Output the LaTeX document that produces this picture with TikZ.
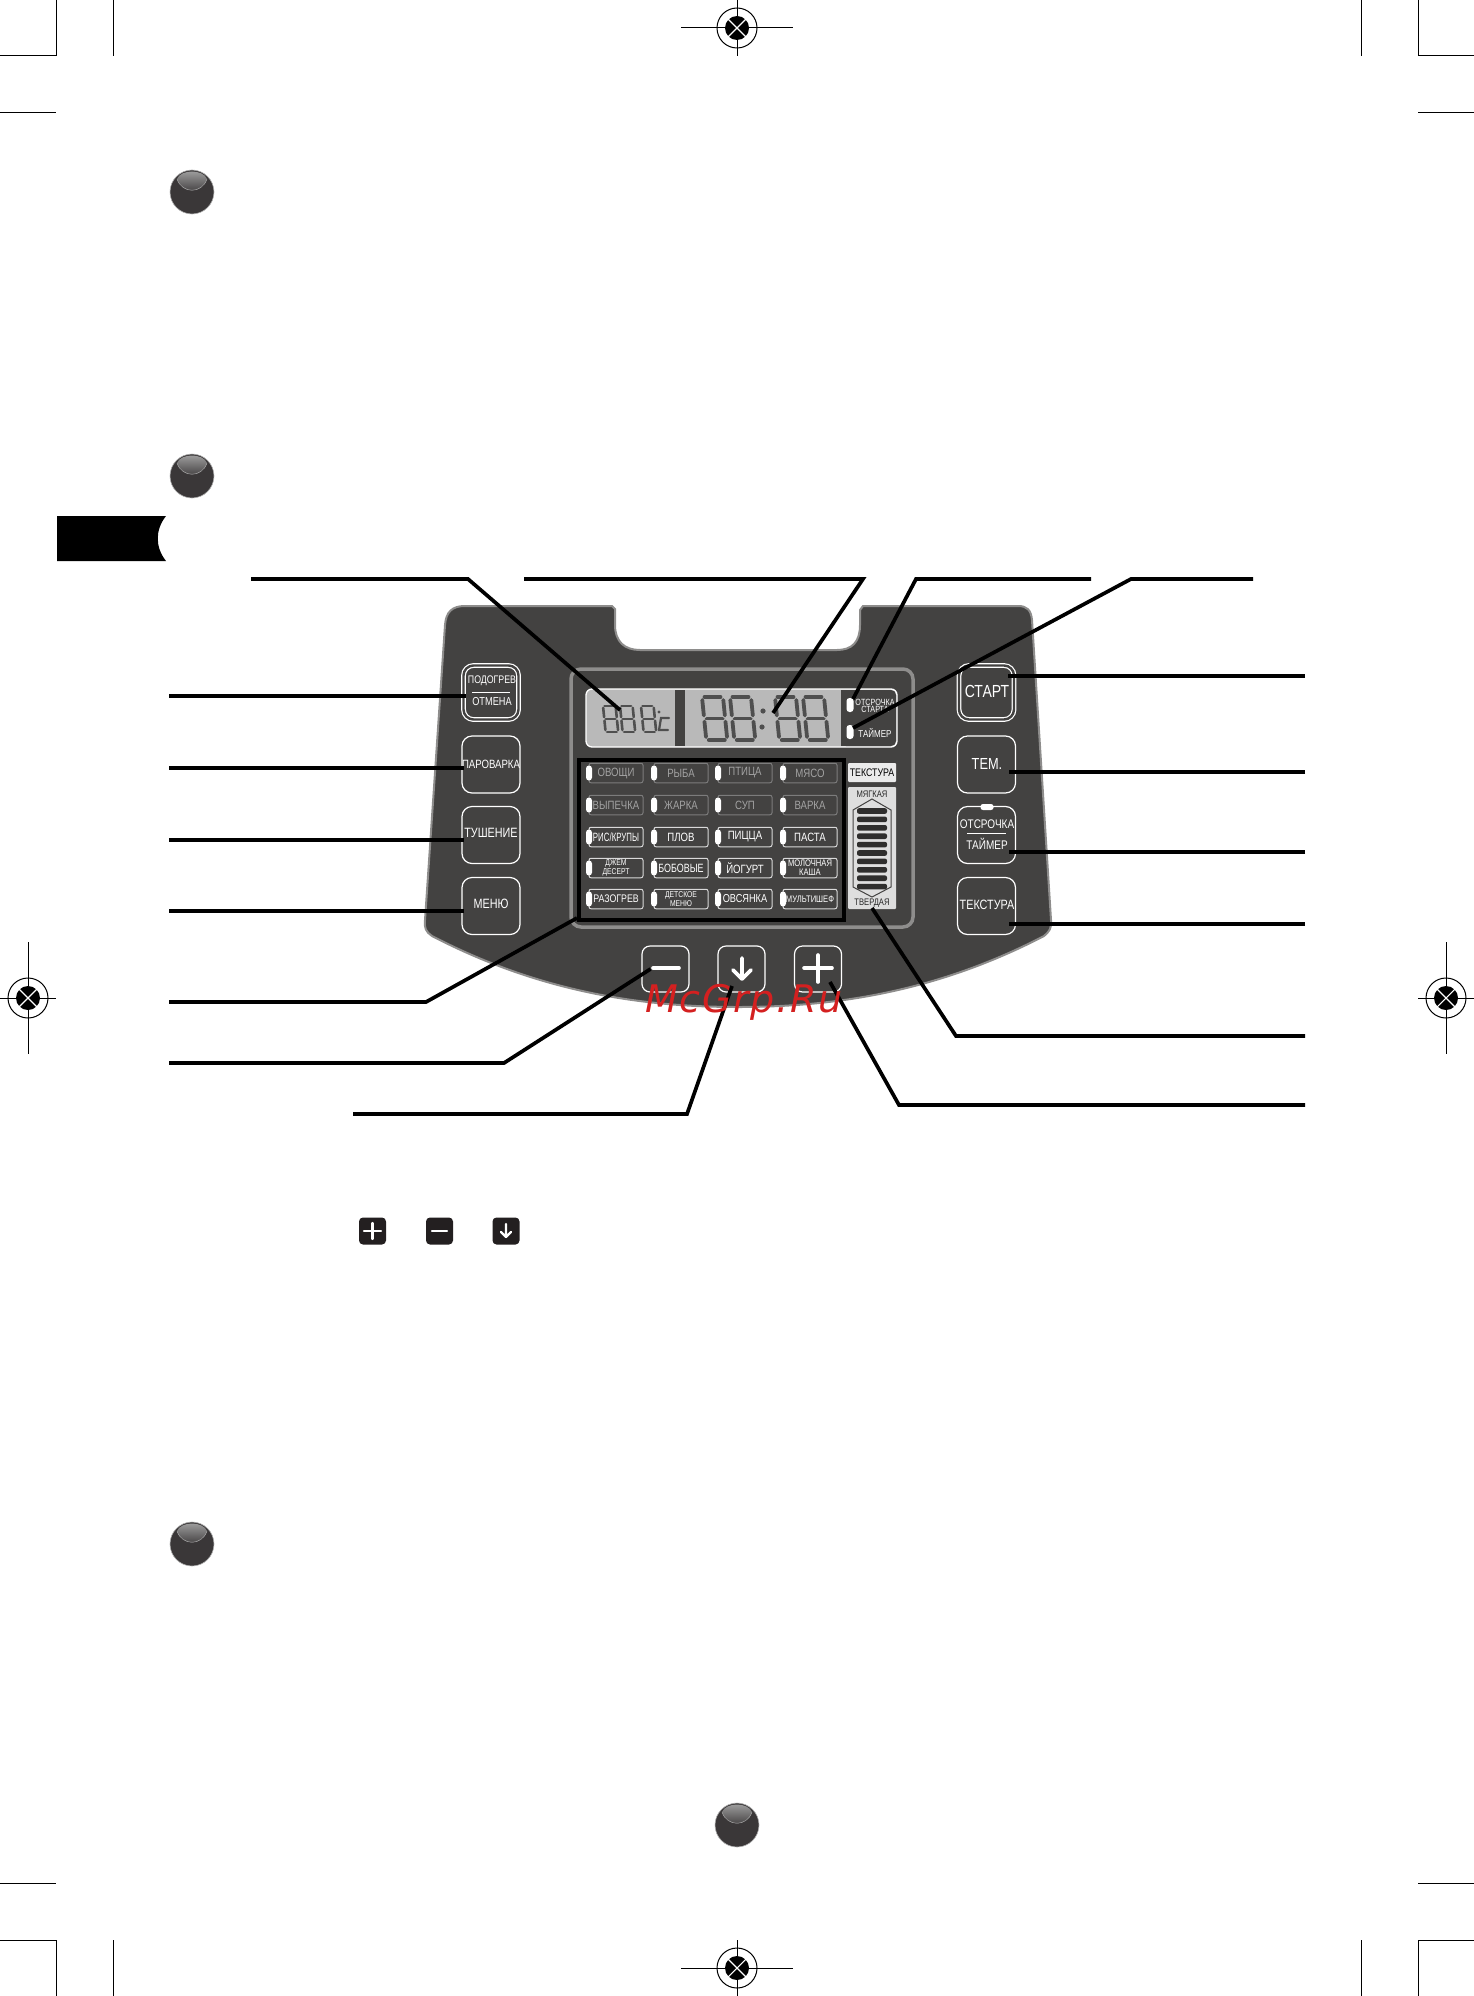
\documentclass[tikz,border=0pt]{standalone}
\usepackage{fontspec}
\usepackage{xcolor}
\setmainfont{Liberation Sans}
\newfontfamily\panelfont[FakeStretch=0.8]{Liberation Sans}
\newfontfamily\markfont[LetterSpace=4.5]{DejaVu Sans}
\definecolor{panelgray}{HTML}{434241}
\definecolor{bevelgray}{HTML}{8E8D8C}
\definecolor{lcdgray}{HTML}{B9B9B9}
\definecolor{seggray}{HTML}{4F4F4F}
\definecolor{dimgray}{HTML}{7C7C7C}
\definecolor{ballgray}{HTML}{3A3738}
\definecolor{iconblack}{HTML}{231F20}
\definecolor{markred}{HTML}{D42020}
\newcommand{\squeeze}[2]{\scalebox{#1}[1]{#2}}
\newcommand{\cellpair}[3]{\fontsize{#1}{8}\selectfont #2\\\fontsize{#1}{8}\selectfont #3}
\newcommand{\cellone}[2]{\fontsize{#1}{#1}\selectfont #2}
\newcommand{\segdigit}[4]{
\begin{scope}[shift={(#1,#2)},xslant=-0.1,scale=#3]
\draw[#4] (2.5,0) -- (18.5,0);
\draw[#4] (2.5,21.5) -- (18.5,21.5);
\draw[#4] (2.5,43) -- (18.5,43);
\draw[#4] (0,3) -- (0,18.5);
\draw[#4] (21,3) -- (21,18.5);
\draw[#4] (0,24.5) -- (0,40);
\draw[#4] (21,24.5) -- (21,40);
\end{scope}
}
\tikzset{
callout/.style={line width=3.7pt,black},
segbig/.style={line width=3.8pt,seggray,line cap=round},
segsmall/.style={line width=2.6pt,seggray,line cap=round},
crop/.style={line width=1pt,black},
btn/.style={draw=white,line width=1.2pt,rounded corners=10pt,minimum width=58pt,minimum height=57pt,inner sep=0pt,text=white,font=\panelfont\fontsize{12}{12}\selectfont},
btnsmall/.style={draw=white,line width=1.2pt,rounded corners=8pt,minimum width=47pt,minimum height=46pt,inner sep=0pt},
btntext/.style={inner sep=0pt,text=white,font=\panelfont\fontsize{13.5}{13.5}\selectfont},
cellon/.style={draw=white!85!black,line width=1pt,rounded corners=2pt,minimum width=54pt,minimum height=19.5pt,inner sep=0pt,text=white,align=center,font=\panelfont\fontsize{12}{9}\selectfont},
celldim/.style={cellon,draw=dimgray,text=dimgray!70!white},
lcdtext/.style={inner sep=0pt,text=white,align=center,font=\panelfont\fontsize{9}{7.5}\selectfont},
softtext/.style={inner sep=0pt,text=black!85,font=\panelfont\fontsize{9.5}{9.5}\selectfont},
}
\begin{document}
\begin{tikzpicture}[x=1pt,y=-1pt]
\useasboundingbox (0,0) rectangle (1474,1996);

% crop marks
\foreach \sx/\ox in {1/0,-1/1474} {
\foreach \sy/\oy in {1/0,-1/1996} {
\draw[crop] (\ox,\oy+\sy*56) -- (\ox+\sx*56,\oy+\sy*56) -- (\ox+\sx*56,\oy);
\draw[crop] (\ox+\sx*113,\oy) -- (\ox+\sx*113,\oy+\sy*56);
\draw[crop] (\ox,\oy+\sy*113) -- (\ox+\sx*56,\oy+\sy*113);
}}

% register marks
\foreach \px/\py/\hx/\hy in {737/28/56/28,737/1968/56/28,28/998/28/56,1446/998/28/56} {
\begin{scope}[shift={(\px,\py)}]
\draw[crop] (-\hx,0) -- (\hx,0);
\draw[crop] (0,-\hy) -- (0,\hy);
\draw[crop] (0,0) circle (20);
\fill[black] (0,0) circle (12);
\draw[white,line width=1.1pt] (-9,-9) -- (9,9);
\draw[white,line width=1.1pt] (-9,9) -- (9,-9);
\end{scope}
}

% round bullets
\foreach \px/\py in {192/192,192/476,192/1544,737/1825} {
\begin{scope}[shift={(\px,\py)}]
\fill[ballgray] (0,0) circle (22);
\draw[gray!60,line width=0.6pt] (0,0) circle (22);
\shade[top color=white!65!black,middle color=ballgray,bottom color=ballgray] (-15,-13) .. controls (-11,-23) and (11,-23) .. (15,-13) .. controls (10,2) and (-10,2) .. (-15,-13) -- cycle;
\draw[gray!70,line width=0.5pt] (-15,-13) .. controls (-10,2) and (10,2) .. (15,-13);
\end{scope}
}

% black tab
\fill[black] (57,516) -- (166,516) .. controls (155,530) and (155,547) .. (166,561) -- (57,561) -- cycle;

% panel
\draw[fill=panelgray,draw=bevelgray,line width=2pt] (445,625) .. controls (446,612) and (452,606) .. (465,606) -- (612,606) -- (615,609) -- (615,625) .. controls (615,642) and (625,650) .. (640,650) -- (837,650) .. controls (852,650) and (860,642) .. (860,625) -- (860,610) -- (863,606) -- (1018,606) .. controls (1027,606) and (1031,610) .. (1032,620) -- (1051,920) .. controls (1052,928) and (1049,932) .. (1044,936) .. controls (940,990) and (840,1007) .. (738,1007) .. controls (636,1007) and (536,990) .. (432,936) .. controls (426,932) and (424,928) .. (425,920) -- cycle;
\draw[bevelgray,line width=3.5pt,rounded corners=10pt] (571,669) rectangle (913,927);

% display
\draw[fill=lcdgray,draw=white,line width=1.3pt,rounded corners=6pt] (586,689) rectangle (897,747);
\fill[panelgray] (675,690) rectangle (685,746);
\fill[panelgray,rounded corners=5pt] (841,690) -- (896,690) -- (896,746) -- (841,746) -- cycle;
\fill[panelgray] (841,690) rectangle (860,746);
\segdigit{702}{697}{1}{segbig}
\segdigit{730}{697}{1}{segbig}
\segdigit{775}{697}{1}{segbig}
\segdigit{803}{697}{1}{segbig}
\fill[seggray] (763,711) circle (2.6);
\fill[seggray] (762,727) circle (2.6);
\segdigit{603}{706}{0.6}{segsmall}
\segdigit{620}{706}{0.6}{segsmall}
\segdigit{641}{706}{0.6}{segsmall}
\draw[segsmall,line width=2.2pt] (669,718) -- (661,718) -- (659,730) -- (668,730);
\fill[seggray] (659,712) circle (1.6);
\fill[white,rounded corners=3pt] (846.5,698) rectangle (853.5,712);
\fill[white,rounded corners=3pt] (846.5,725) rectangle (853.5,739);
\node[lcdtext] (lcdDelay) at (875,706) {ОТСРОЧКА\\СТАРТА};
\node[lcdtext,font=\panelfont\fontsize{10}{10}\selectfont] (lcdTimer) at (875,733) {ТАЙМЕР};

% programmes
\draw[black,line width=4pt] (579,760) rectangle (844,920);
\foreach \cy/\cstyle/\ta/\tb/\tc/\td in {
773/celldim/ОВОЩИ/РЫБА/ПТИЦА/МЯСО,
805/celldim/ВЫПЕЧКА/ЖАРКА/СУП/ВАРКА,
837/cellon/{\squeeze{0.82}{РИС/КРУПЫ}}/ПЛОВ/ПИЦЦА/ПАСТА,
868/cellon/{\cellpair{8.5}{ДЖЕМ}{ДЕСЕРТ}}/{\squeeze{0.93}{БОБОВЫЕ}}/ЙОГУРТ/{\cellpair{9.5}{МОЛОЧНАЯ}{КАША}},
899/cellon/{\cellone{11}{РАЗОГРЕВ}}/{\cellpair{8.5}{ДЕТСКОЕ}{МЕНЮ}}/{\cellone{11.5}{ОВСЯНКА}}/{\cellone{9.5}{МУЛЬТИШЕФ}}} {
\foreach \cx/\ctxt in {616/\ta,681/\tb,745/\tc,810/\td} {
\node[\cstyle] (cell\cx-\cy) at (\cx,\cy) {\ctxt};
\fill[white,rounded corners=3pt] (\cx-30,\cy-7.5) rectangle (\cx-24,\cy+7.5);
}}

% texture scale
\node[fill=white!92!black,rounded corners=1pt,minimum width=48pt,minimum height=19pt,inner sep=0pt,font=\panelfont\fontsize{11}{11}\selectfont] (softHead) at (872,772.5) {ТЕКСТУРА};
\fill[white!87!black,rounded corners=1pt] (848,787) rectangle (896,909);
\node[softtext] (softTop) at (872,794) {МЯГКАЯ};
\node[softtext] (softBottom) at (872,903) {ТВЕРДАЯ};
\draw[panelgray,line width=1pt,fill=white!87!black] (872,799) -- (891,810) -- (891,887) -- (872,897) -- (853,887) -- (853,810) -- cycle;
\foreach \by in {811,819.4,827.8,836.2,844.6,853,861.4,869.8,878.2,886.6} {
\fill[panelgray!70!black,rounded corners=2pt] (857,\by-2.8) rectangle (887,\by+2.8);
}

% buttons
\node[btn,double=panelgray,double distance=2.4pt,minimum width=55pt,minimum height=54pt] (btnHeat) at (491,692.5) {};
\node[btn] (btnSteam) at (491,764.5) {ПАРОВАРКА};
\node[btn] (btnStew) at (491,835) {};
\node[btn] (btnMenu) at (491,906) {};
\node[btn,double=panelgray,double distance=2.4pt,minimum width=55pt,minimum height=54pt] (btnStart) at (986.5,692.5) {};
\node[btn] (btnTemp) at (986.5,764.5) {};
\node[btn] (btnDelay) at (986.5,835) {};
\node[btn] (btnTexture) at (986.5,906) {};
\node[btntext,font=\panelfont\fontsize{11}{11}\selectfont] (txtHeat) at (492,681) {ПОДОГРЕВ};
\draw[white,line width=0.9pt] (472,692) -- (510,692);
\node[btntext,font=\panelfont\fontsize{11.5}{11.5}\selectfont] (txtCancel) at (492,702) {ОТМЕНА};
\node[btntext] (txtStew) at (491,833) {ТУШЕНИЕ};
\node[btntext] (txtMenu) at (491,904) {МЕНЮ};
\node[btntext,font=\panelfont\fontsize{17.5}{17.5}\selectfont] (txtStart) at (987,691) {СТАРТ};
\node[btntext,font=\panelfont\fontsize{16}{16}\selectfont] (txtTemp) at (987,764) {ТЕМ.};
\fill[white,rounded corners=2.5pt] (980.5,804) rectangle (993.5,810);
\node[btntext,font=\panelfont\fontsize{12.5}{12.5}\selectfont] (txtDelay) at (987,824) {ОТСРОЧКА};
\draw[white,line width=0.6pt] (967,833) -- (1006,833);
\node[btntext,font=\panelfont\fontsize{12.5}{12.5}\selectfont] (txtTimer) at (987,844) {ТАЙМЕР};
\node[btntext] (txtTexture) at (987,905) {ТЕКСТУРА};
\node[btnsmall] (btnMinus) at (665.5,969) {};
\node[btnsmall] (btnDown) at (741.5,969) {};
\node[btnsmall] (btnPlus) at (818,969) {};
\draw[white,line width=3.6pt,line cap=round] (653,968) -- (679,968);
\draw[white,line width=3.6pt,line cap=round,line join=round] (742,958) -- (742,979) (733,970) -- (742,979) -- (751,970);
\draw[white,line width=3.6pt,line cap=round] (804,968) -- (832,968) (818,955) -- (818,982);

% free ends
\coordinate (endTemp) at (251,579);
\coordinate (endClock) at (524,579);
\coordinate (endDelay) at (1091,579);
\coordinate (endTimer) at (1253,579);
\coordinate (endHeat) at (169,696);
\coordinate (endSteam) at (169,768);
\coordinate (endStew) at (169,840);
\coordinate (endMenu) at (169,911);
\coordinate (endProg) at (169,1002);
\coordinate (endMinus) at (169,1063);
\coordinate (endDown) at (353,1114);
\coordinate (endStart) at (1305,676);
\coordinate (endTmp) at (1305,772);
\coordinate (endDelayBtn) at (1305,852);
\coordinate (endTexture) at (1305,924);
\coordinate (endScale) at (1305,1036);
\coordinate (endPlus) at (1305,1105);
\coordinate (tipTemp) at (620,710);
\coordinate (tipClock) at (773,713);
\coordinate (tipProg) at (577,918);

% callouts
\draw[callout] (endTemp) -- (468,579) -- (tipTemp);
\draw[callout] (endClock) -- (863,579) -- (tipClock);
\draw[callout] (endDelay) -- (916,579) -- ([shift={(-22pt,7pt)}]lcdDelay.center);
\draw[callout] (endTimer) -- (1131,579) -- ([shift={(-22pt,5pt)}]lcdTimer.center);
\draw[callout] (endHeat) -- ([xshift=3pt]btnHeat.west |- endHeat);
\draw[callout] (endSteam) -- ([xshift=3pt]btnSteam.west |- endSteam);
\draw[callout] (endStew) -- ([xshift=3pt]btnStew.west |- endStew);
\draw[callout] (endMenu) -- ([xshift=3pt]btnMenu.west |- endMenu);
\draw[callout] (endProg) -- (426,1002) -- (tipProg);
\draw[callout] (endMinus) -- (504,1063) -- ([xshift=-15pt]btnMinus.center);
\draw[callout] (endDown) -- (687,1114) -- ([shift={(-9.5pt,-17pt)}]btnDown.center);
\draw[callout] (endStart) -- ([xshift=-7pt]btnStart.east |- endStart);
\draw[callout] (endTmp) -- ([xshift=-7pt]btnTemp.east |- endTmp);
\draw[callout] (endDelayBtn) -- ([xshift=-7pt]btnDelay.east |- endDelayBtn);
\draw[callout] (endTexture) -- ([xshift=-7pt]btnTexture.east |- endTexture);
\draw[callout] (endScale) -- (956,1036) -- ([yshift=-5pt]softBottom.center);
\draw[callout] (endPlus) -- (899,1105) -- ([shift={(12pt,-13pt)}]btnPlus.center);

% small key icons
\node[fill=iconblack,rounded corners=4pt,minimum size=27pt,inner sep=0pt] (iconPlus) at (372.5,1231) {};
\node[fill=iconblack,rounded corners=4pt,minimum size=27pt,inner sep=0pt] (iconMinus) at (439.5,1231) {};
\node[fill=iconblack,rounded corners=4pt,minimum size=27pt,inner sep=0pt] (iconDown) at (506,1231) {};
\draw[white,line width=2.2pt,line cap=round] (364,1231) -- (381,1231) (372.5,1223) -- (372.5,1239);
\draw[white,line width=2.2pt,line cap=round] (432,1231) -- (447,1231);
\draw[white,line width=2.2pt,line cap=round,line join=round] (506,1224) -- (506,1237) (501,1232) -- (506,1237) -- (511,1232);

% watermark
\node[inner sep=0pt,anchor=base,text=markred,font=\markfont\itshape\fontsize{38}{38}\selectfont] (markText) at (744,1012) {McGrp.Ru};
\end{tikzpicture}
\end{document}
